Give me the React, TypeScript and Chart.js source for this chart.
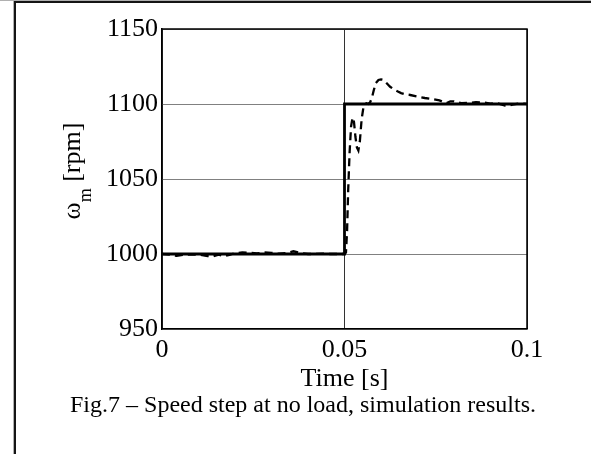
import { useEffect, useRef } from "react";
import { Chart, registerables } from "chart.js";

Chart.register(...registerables);

// Reference (commanded) speed: step at t = 0.05 s
const refTime = [0, 0.05, 0.05, 0.1];
const refSpeed = [1000, 1000, 1100, 1100];

// Simulated motor speed (dashed)
const simTime = [
  0, 0.002, 0.004, 0.006, 0.008, 0.01, 0.0125, 0.014, 0.0155, 0.017, 0.0185,
  0.02, 0.022, 0.024, 0.026, 0.028, 0.03, 0.032, 0.034, 0.036, 0.038, 0.04,
  0.042, 0.044, 0.046, 0.048, 0.05, 0.0504, 0.0507, 0.051, 0.0514, 0.0518,
  0.0522, 0.0526, 0.053, 0.0534, 0.0538, 0.0542, 0.0547, 0.0552, 0.0557,
  0.056, 0.0565, 0.057, 0.0575, 0.058, 0.0586, 0.0593, 0.06, 0.0607, 0.0615,
  0.0625, 0.0635, 0.0645, 0.0655, 0.0665, 0.068, 0.07, 0.072, 0.074, 0.076,
  0.077, 0.078, 0.079, 0.08, 0.082, 0.084, 0.086, 0.088, 0.09, 0.092, 0.094,
  0.095, 0.096, 0.098, 0.1,
];
const simSpeed = [
  1000, 999.6, 998.8, 999.5, 999.8, 999.6, 998.6, 998.4, 999.6, 998.5, 999.4,
  1000.6, 1001.0, 1000.8, 1000.4, 1001.0, 1000.8, 1000.2, 1000.6, 1001.8,
  1000.6, 1000.0, 1000.0, 1000.2, 1000.0, 1000.0, 1000.0, 1001, 1015, 1042,
  1068, 1085, 1091, 1088, 1078, 1071, 1069, 1075, 1090, 1098, 1100, 1100.5,
  1100, 1101, 1104, 1109, 1114, 1116, 1116.4, 1116, 1114, 1111.5, 1109.8,
  1108.5, 1107.3, 1106.6, 1106, 1105, 1104, 1103.3, 1102.4, 1101.4, 1100.6,
  1101.8, 1101.8, 1100.6, 1100.8, 1101.2, 1101, 1100.3, 1100.4, 1099, 1098.8,
  1099.6, 1100.4, 1100,
];

const xTickLabels = ["0", "0.05", "0.1"];
const yTickLabels = ["950", "1000", "1050", "1100", "1150"];
const xTitle = "Time [s]";
const yTitleMain = "ω";
const yTitleSub = "m";
const yTitleRest = " [rpm]";
const caption = "Fig.7 – Speed step at no load, simulation results.";

const FONT = "'Liberation Serif', 'Times New Roman', serif";

const decorPlugin = {
  id: "decor",
  beforeDraw(chart: any) {
    const ctx = chart.ctx as CanvasRenderingContext2D;
    ctx.save();
    ctx.fillStyle = "#ffffff";
    ctx.fillRect(0, 0, chart.width, chart.height);
    ctx.fillStyle = "#b0b0b0";
    ctx.fillRect(0, 0, chart.width, 1);
    ctx.fillRect(13, 0, 1, chart.height);
    ctx.fillStyle = "#151515";
    ctx.fillRect(14, 1, chart.width - 14, 2);
    ctx.fillRect(14, 1, 2, chart.height);
    ctx.restore();
  },
  afterDraw(chart: any) {
    const ctx = chart.ctx as CanvasRenderingContext2D;
    const { left, right, top, bottom } = chart.chartArea;
    ctx.save();
    // box: top and right edges
    ctx.strokeStyle = "#000";
    ctx.lineWidth = 1.5;
    ctx.beginPath();
    ctx.moveTo(left, top);
    ctx.lineTo(right, top);
    ctx.lineTo(right, bottom);
    ctx.stroke();

    // y-axis title with subscript
    ctx.fillStyle = "#000";
    ctx.translate(80, (top + bottom) / 2 - 8);
    ctx.rotate(-Math.PI / 2);
    const mainFont = `26px ${FONT}`;
    const subFont = `18px ${FONT}`;
    ctx.font = mainFont;
    const w1 = ctx.measureText(yTitleMain).width;
    const w3 = ctx.measureText(yTitleRest).width;
    ctx.font = subFont;
    const w2 = ctx.measureText(yTitleSub).width;
    const total = w1 + w2 + w3;
    let x = -total / 2;
    ctx.textBaseline = "alphabetic";
    ctx.textAlign = "left";
    ctx.font = mainFont;
    ctx.fillText(yTitleMain, x, 0);
    x += w1;
    ctx.font = subFont;
    ctx.fillText(yTitleSub, x, 11);
    x += w2;
    ctx.font = mainFont;
    ctx.fillText(yTitleRest, x, 0);
    ctx.restore();

    // caption
    ctx.save();
    ctx.fillStyle = "#000";
    ctx.font = `24px ${FONT}`;
    ctx.textAlign = "center";
    ctx.textBaseline = "middle";
    ctx.fillText(caption, 303, 406);
    ctx.restore();
  },
};

export default function App() {
  const ref = useRef<HTMLCanvasElement | null>(null);

  useEffect(() => {
    if (!ref.current) return;
    const chart = new Chart(ref.current, {
      type: "line",
      data: {
        datasets: [
          {
            label: "reference",
            data: refTime.map((t, i) => ({ x: t, y: refSpeed[i] })),
            borderColor: "#000",
            borderWidth: 2.8,
            pointRadius: 0,
            fill: false,
            tension: 0,
          },
          {
            label: "speed",
            data: simTime.map((t, i) => ({ x: t, y: simSpeed[i] })),
            borderColor: "#000",
            borderWidth: 2.3,
            borderDash: [8, 5],
            pointRadius: 0,
            fill: false,
            tension: 0,
          },
        ],
      },
      options: {
        responsive: false,
        animation: false,
        devicePixelRatio: 1,
        layout: { padding: { top: 29, right: 64, bottom: 0, left: 0 } },
        plugins: {
          legend: { display: false },
          title: { display: false },
          tooltip: { enabled: false },
        },
        scales: {
          x: {
            type: "linear",
            min: 0,
            max: 0.1,
            afterFit: (s: any) => {
              s.height = 125;
            },
            ticks: {
              stepSize: 0.05,
              color: "#000",
              padding: 6,
              maxRotation: 0,
              font: { family: FONT, size: 26 },
              callback: (_v: any, i: number) => xTickLabels[i],
            },
            grid: { color: "#333", lineWidth: 1, drawTicks: false },
            border: { color: "#000", width: 1.5 },
            title: {
              display: true,
              text: xTitle,
              color: "#000",
              font: { family: FONT, size: 26 },
              padding: { top: 0, bottom: 59 },
            },
          },
          y: {
            type: "linear",
            min: 950,
            max: 1150,
            afterFit: (s: any) => {
              s.width = 162;
            },
            ticks: {
              stepSize: 50,
              color: "#000",
              padding: 4,
              font: { family: FONT, size: 26 },
              callback: (_v: any, i: number) => yTickLabels[i],
            },
            grid: { color: "#808080", lineWidth: 1, drawTicks: false },
            border: { color: "#000", width: 1.5 },
          },
        },
      },
      plugins: [decorPlugin],
    });
    return () => chart.destroy();
  }, []);

  return (
    <canvas
      ref={ref}
      width={591}
      height={454}
      style={{ position: "absolute", left: 0, top: 0, width: 591, height: 454 }}
    />
  );
}
